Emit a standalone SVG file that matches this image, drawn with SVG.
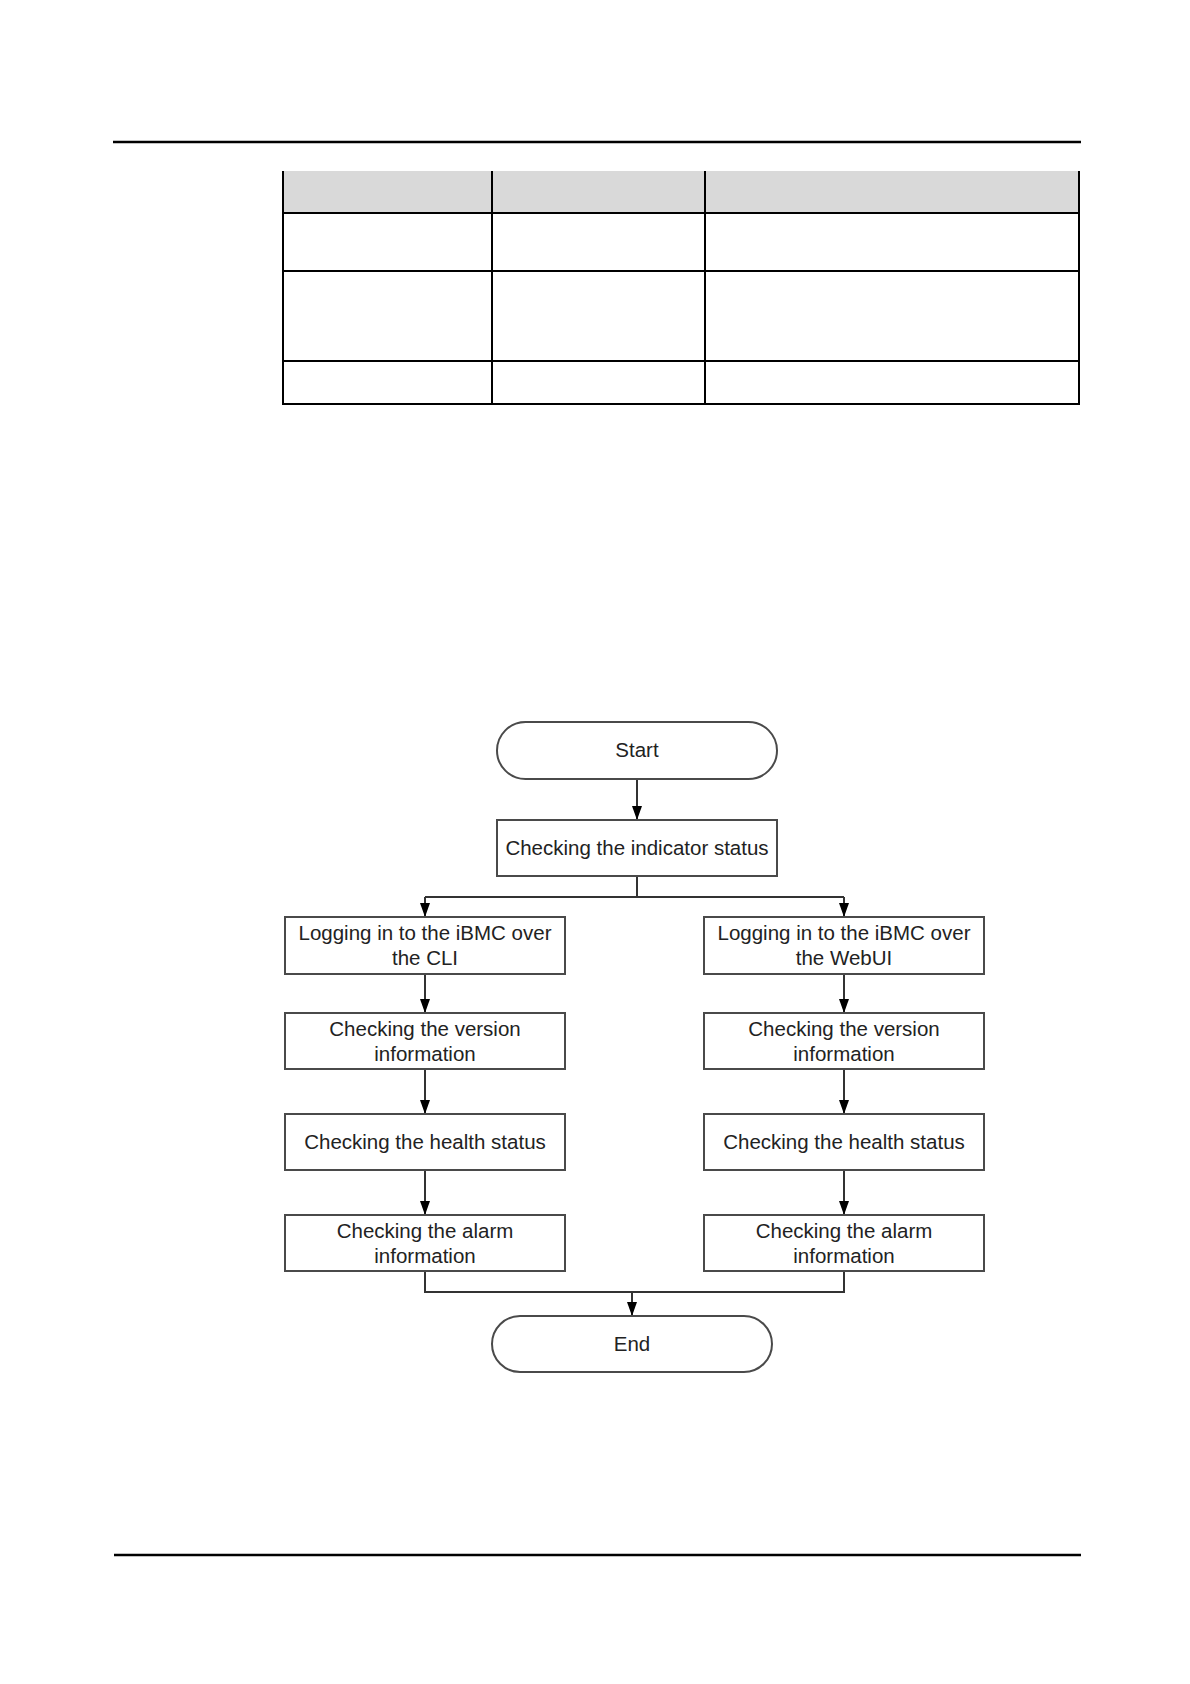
<svg xmlns="http://www.w3.org/2000/svg" width="1190" height="1684" viewBox="0 0 1190 1684">
<style>
.rule{stroke:#000;stroke-width:2.5;fill:none}
.tbl{stroke:#000;stroke-width:2;fill:none}
.box{fill:#fff;stroke:#4a4a4a;stroke-width:2}
.conn{fill:none;stroke:#333;stroke-width:2}
.lbl{font-family:"Liberation Sans",Arial,sans-serif;font-size:20.5px;fill:#222;text-anchor:middle}
</style>
<defs>
<marker id="arr" viewBox="0 0 14 10" refX="14" refY="5" markerWidth="14" markerHeight="10" markerUnits="userSpaceOnUse" orient="auto">
<path d="M0,0 L14,5 L0,10 z" fill="#000"/>
</marker>
</defs>
<rect width="1190" height="1684" fill="#fff"/>
<line class="rule" x1="113" y1="142" x2="1081" y2="142"/>
<line class="rule" x1="114" y1="1555" x2="1081" y2="1555"/>
<g id="table">
<rect x="283" y="171" width="796" height="42" fill="#d9d9d9"/>
<path class="tbl" d="M283,171 V404 H1079 V171 M492,171 V404 M705,171 V404 M283,213 H1079 M283,271 H1079 M283,361 H1079"/>
</g>
<g id="connectors">
<path class="conn" d="M637,779 V820" marker-end="url(#arr)"/>
<path class="conn" d="M637,876 V897"/>
<path class="conn" d="M425,897 H844"/>
<path class="conn" d="M425,897 V917" marker-end="url(#arr)"/>
<path class="conn" d="M844,897 V917" marker-end="url(#arr)"/>
<path class="conn" d="M425,974 V1013" marker-end="url(#arr)"/>
<path class="conn" d="M425,1069 V1114" marker-end="url(#arr)"/>
<path class="conn" d="M425,1170 V1215" marker-end="url(#arr)"/>
<path class="conn" d="M844,974 V1013" marker-end="url(#arr)"/>
<path class="conn" d="M844,1069 V1114" marker-end="url(#arr)"/>
<path class="conn" d="M844,1170 V1215" marker-end="url(#arr)"/>
<path class="conn" d="M425,1271 V1292 H844 V1271"/>
<path class="conn" d="M632,1292 V1316" marker-end="url(#arr)"/>
</g>
<g id="start"><rect class="box" x="497" y="722" width="280" height="57" rx="28.5"/><text class="lbl" x="637" y="757">Start</text></g>
<g id="indicator"><rect class="box" x="497" y="820" width="280" height="56"/><text class="lbl" x="637" y="855">Checking the indicator status</text></g>
<g id="cli-login"><rect class="box" x="285" y="917" width="280" height="57"/><text class="lbl" x="425" y="940">Logging in to the iBMC over</text><text class="lbl" x="425" y="965">the CLI</text></g>
<g id="cli-version"><rect class="box" x="285" y="1013" width="280" height="56"/><text class="lbl" x="425" y="1036">Checking the version</text><text class="lbl" x="425" y="1061">information</text></g>
<g id="cli-health"><rect class="box" x="285" y="1114" width="280" height="56"/><text class="lbl" x="425" y="1149">Checking the health status</text></g>
<g id="cli-alarm"><rect class="box" x="285" y="1215" width="280" height="56"/><text class="lbl" x="425" y="1238">Checking the alarm</text><text class="lbl" x="425" y="1263">information</text></g>
<g id="web-login"><rect class="box" x="704" y="917" width="280" height="57"/><text class="lbl" x="844" y="940">Logging in to the iBMC over</text><text class="lbl" x="844" y="965">the WebUI</text></g>
<g id="web-version"><rect class="box" x="704" y="1013" width="280" height="56"/><text class="lbl" x="844" y="1036">Checking the version</text><text class="lbl" x="844" y="1061">information</text></g>
<g id="web-health"><rect class="box" x="704" y="1114" width="280" height="56"/><text class="lbl" x="844" y="1149">Checking the health status</text></g>
<g id="web-alarm"><rect class="box" x="704" y="1215" width="280" height="56"/><text class="lbl" x="844" y="1238">Checking the alarm</text><text class="lbl" x="844" y="1263">information</text></g>
<g id="end"><rect class="box" x="492" y="1316" width="280" height="56" rx="28"/><text class="lbl" x="632" y="1351">End</text></g>
</svg>
